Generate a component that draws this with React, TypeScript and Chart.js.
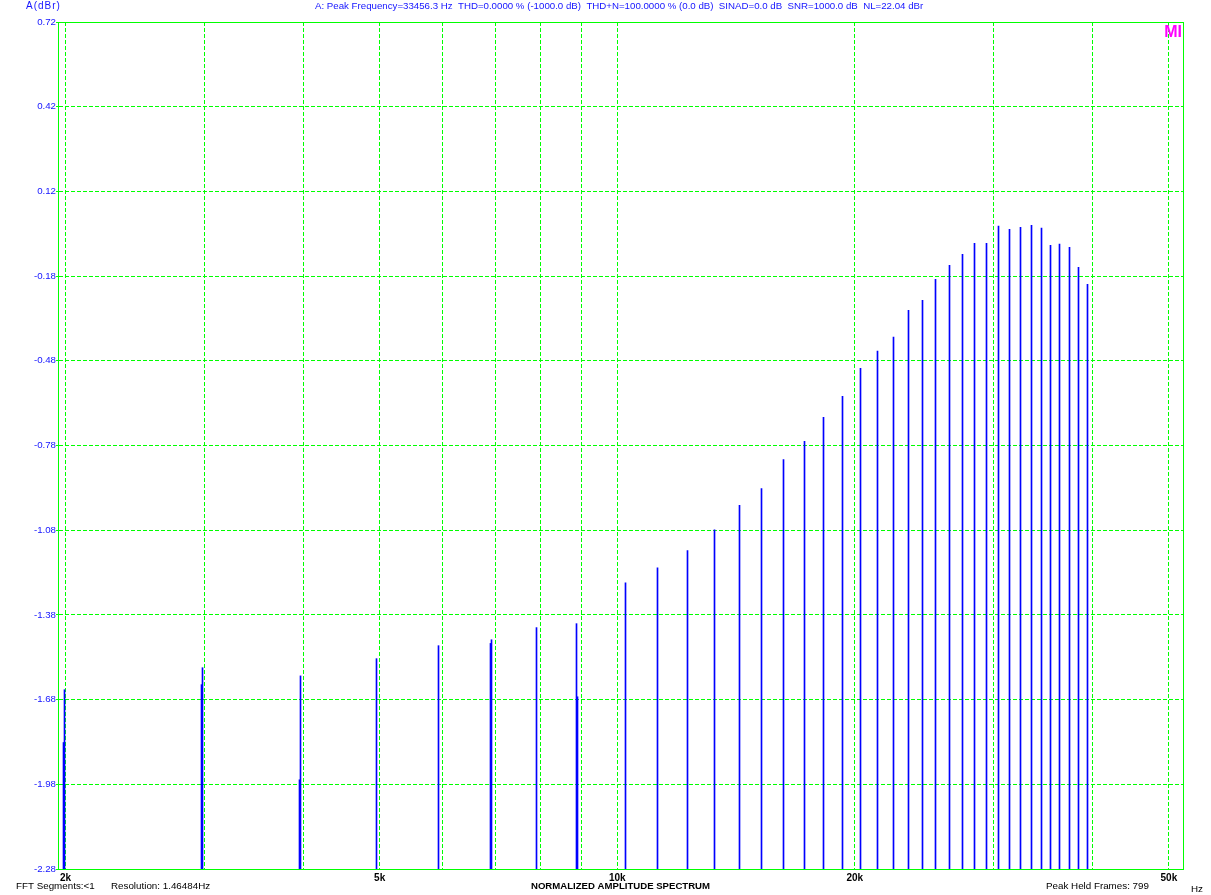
import React, { useEffect, useRef } from 'react';
import { Chart, registerables } from 'chart.js';

Chart.register(...registerables);

// ---- data ----
const Y_MIN = -2.28;
const Y_MAX = 0.72;
const X_MIN = 1956;
const X_MAX = 52100;

const Y_TICKS = [-2.28, -1.98, -1.68, -1.38, -1.08, -0.78, -0.48, -0.18, 0.12, 0.42, 0.72];
const X_GRID = [2000, 3000, 4000, 5000, 6000, 7000, 8000, 9000, 10000, 20000, 30000, 40000, 50000];
const X_LABEL_VALUES = [2000, 5000, 10000, 20000, 50000];
const X_LABEL_TEXTS = ['2k', '5k', '10k', '20k', '50k'];

// spectral lines: frequency (Hz) and level (dBr)
const FREQS = [
  1988, 1993, 2973, 2982, 3957, 3969, 4955, 5936, 6911, 6931, 7900, 8878, 8904,
  10242, 11244, 12275, 13278, 14283, 15229, 16236, 17259, 18244, 19285, 20324, 21359,
  22384, 23385, 24361, 25303, 26357, 27376, 28351, 29361, 30406, 31398, 32421, 33456,
  34469, 35385, 36327, 37403, 38398, 39420,
];
const LEVELS = [
  -1.832, -1.645, -1.627, -1.567, -1.964, -1.596, -1.535, -1.489, -1.481, -1.468, -1.425, -1.411, -1.670,
  -1.266, -1.213, -1.152, -1.079, -0.992, -0.933, -0.830, -0.765, -0.680, -0.606, -0.507, -0.446,
  -0.396, -0.301, -0.266, -0.191, -0.142, -0.103, -0.064, -0.064, -0.003, -0.014, -0.007, 0.000,
  -0.010, -0.071, -0.067, -0.078, -0.149, -0.209,
];

const Y_UNIT = 'A(dBr)';
const HEADER = 'A: Peak Frequency=33456.3 Hz  THD=0.0000 % (-1000.0 dB)  THD+N=100.0000 % (0.0 dB)  SINAD=0.0 dB  SNR=1000.0 dB  NL=22.04 dBr';
const FOOT_SEGMENTS = 'FFT Segments:<1';
const FOOT_RESOLUTION = 'Resolution: 1.46484Hz';
const FOOT_TITLE = 'NORMALIZED AMPLITUDE SPECTRUM';
const FOOT_FRAMES = 'Peak Held Frames: 799';
const X_UNIT = 'Hz';
const LOGO = 'MI';

const GREEN = '#00ff00';
const BLUE = '#1414ff';
const FONT = '"Liberation Sans", Arial, sans-serif';

const crispBars = {
  id: 'crispBars',
  beforeDatasetsDraw(chart: any) {
    chart.getSortedVisibleDatasetMetas().forEach((m: any) => {
      m.data.forEach((el: any) => {
        el.x = Math.floor(el.x) + 0.5;
        el.width = 1;
      });
    });
  },
};

const decorations = {
  id: 'decorations',
  afterDraw(chart: any) {
    const { ctx, chartArea } = chart;
    const { left, right, top, bottom } = chartArea;
    ctx.save();
    // solid frame
    ctx.strokeStyle = GREEN;
    ctx.lineWidth = 1;
    ctx.setLineDash([]);
    ctx.strokeRect(Math.round(left - 0.5) + 0.5, Math.round(top - 0.5) + 0.5,
      Math.round(right - left), Math.round(bottom - top));

    // header texts
    ctx.fillStyle = BLUE;
    ctx.textBaseline = 'middle';
    ctx.textAlign = 'left';
    ctx.font = `10px ${FONT}`;
    (ctx as any).letterSpacing = '1px';
    ctx.fillText(Y_UNIT, 26, 6.5);
    (ctx as any).letterSpacing = '0px';
    ctx.font = `9.7px ${FONT}`;
    ctx.fillText(HEADER, 315, 6.5);

    // logo
    ctx.fillStyle = '#ff00ff';
    ctx.font = `bold 16px ${FONT}`;
    ctx.textAlign = 'right';
    ctx.textBaseline = 'alphabetic';
    ctx.fillText(LOGO, 1182, 37);

    // footer
    ctx.fillStyle = '#000000';
    ctx.textBaseline = 'middle';
    ctx.textAlign = 'left';
    ctx.font = `9.8px ${FONT}`;
    ctx.fillText(FOOT_SEGMENTS, 16, 886.5);
    ctx.fillText(FOOT_RESOLUTION, 111, 886.5);
    ctx.fillText(FOOT_FRAMES, 1046, 886.5);
    ctx.fillText(X_UNIT, 1191, 889);
    ctx.font = `bold 9.6px ${FONT}`;
    ctx.textAlign = 'center';
    ctx.fillText(FOOT_TITLE, 620.5, 886.5);
    ctx.restore();
  },
};

export default function App() {
  const ref = useRef<HTMLCanvasElement | null>(null);

  useEffect(() => {
    if (!ref.current) return;
    const chart = new Chart(ref.current, {
      type: 'bar',
      data: {
        datasets: [
          {
            data: FREQS.map((f, i) => ({ x: f, y: [Y_MIN, LEVELS[i]] })) as any,
            backgroundColor: '#0000ff',
            borderWidth: 0,
            barThickness: 1,
          },
        ],
      },
      options: {
        animation: false,
        responsive: false,
        devicePixelRatio: 1,
        layout: { padding: { left: 0, top: 22, right: 28, bottom: 0 }, autoPadding: false } as any,
        plugins: { legend: { display: false }, tooltip: { enabled: false }, title: { display: false } },
        scales: {
          x: {
            type: 'logarithmic',
            min: X_MIN,
            max: X_MAX,
            offset: false,
            afterBuildTicks: (s: any) => {
              s.ticks = X_GRID.map((v) => ({ value: v }));
            },
            afterFit: (s: any) => {
              s.height = 26;
            },
            grid: { color: GREEN, lineWidth: 1, drawTicks: false, offset: false },
            border: { display: true, color: GREEN, dash: [4, 2] },
            ticks: {
              autoSkip: false,
              maxRotation: 0,
              minRotation: 0,
              padding: 3,
              color: '#000000',
              font: { family: FONT, size: 10, weight: 'bold' },
              callback: (v: any) => {
                const k = X_LABEL_VALUES.indexOf(Number(v));
                return k >= 0 ? X_LABEL_TEXTS[k] : '';
              },
            },
          },
          y: {
            type: 'linear',
            min: Y_MIN,
            max: Y_MAX,
            afterBuildTicks: (s: any) => {
              s.ticks = Y_TICKS.map((v) => ({ value: v }));
            },
            afterFit: (s: any) => {
              s.width = 58;
            },
            grid: { color: GREEN, lineWidth: 1, drawTicks: true, tickLength: 2, tickColor: GREEN },
            border: { display: true, color: GREEN, dash: [4, 2] },
            ticks: {
              padding: 0,
              color: BLUE,
              font: { family: FONT, size: 9.7 },
              callback: (v: any) => Number(v).toFixed(2),
            },
          },
        },
      } as any,
      plugins: [crispBars, decorations],
    });
    return () => chart.destroy();
  }, []);

  return (
    <div style={{ position: 'absolute', left: 0, top: 0, width: 1211, height: 895, background: '#ffffff' }}>
      <canvas ref={ref} width={1211} height={895} style={{ display: 'block', width: 1211, height: 895 }} />
    </div>
  );
}
